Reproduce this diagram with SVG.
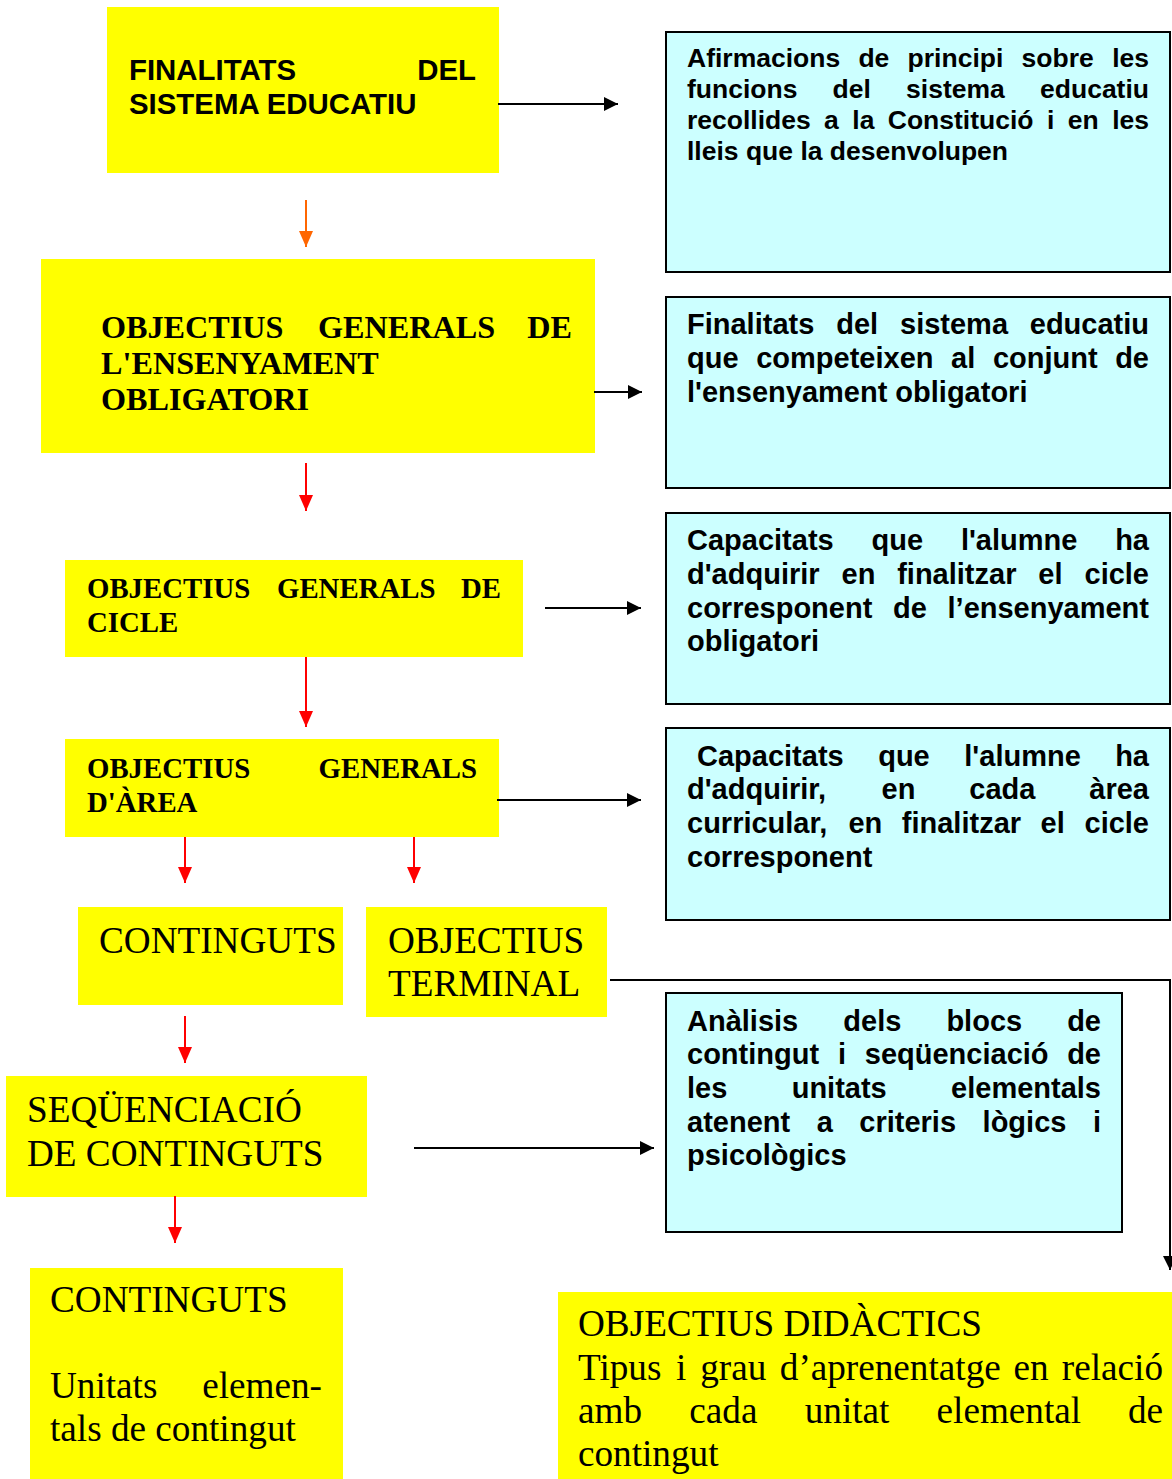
<svg xmlns="http://www.w3.org/2000/svg" width="1172" height="1479" viewBox="0 0 1172 1479">
  <style>
    .y { fill: #FFFF00; }
    .c { fill: #CCFFFF; stroke: #000; stroke-width: 2; }
    .sb { font-family: "Liberation Sans", Arial, sans-serif; font-weight: bold; fill: #000; }
    .rb { font-family: "Liberation Serif", "Times New Roman", serif; font-weight: bold; fill: #000; }
    .rn { font-family: "Liberation Serif", "Times New Roman", serif; fill: #000; font-size: 37.2px; }
    .e { text-anchor: end; }
    .blk { stroke: #000; stroke-width: 2; fill: none; marker-end: url(#hb); }
    .red { stroke: #FF0000; stroke-width: 2; fill: none; marker-end: url(#hr); }
    .org { stroke: #FF6600; stroke-width: 2; fill: none; marker-end: url(#ho); }
  </style>
  <defs>
    <marker id="hb" markerUnits="userSpaceOnUse" markerWidth="14" markerHeight="14" refX="14" refY="7" orient="auto">
      <path d="M0,0 L14,7 L0,14 z" fill="#000"/>
    </marker>
    <marker id="hr" markerUnits="userSpaceOnUse" markerWidth="16" markerHeight="14" refX="16" refY="7" orient="auto">
      <path d="M0,0 L16,7 L0,14 z" fill="#FF0000"/>
    </marker>
    <marker id="ho" markerUnits="userSpaceOnUse" markerWidth="16" markerHeight="14" refX="16" refY="7" orient="auto">
      <path d="M0,0 L16,7 L0,14 z" fill="#FF6600"/>
    </marker>
  </defs>
  <rect width="1172" height="1479" fill="#fff"/>

  <!-- left column: yellow nodes -->
  <g id="finalitats">
    <rect class="y" x="107" y="7" width="392" height="166"/>
    <text class="sb" font-size="29.4">
      <tspan x="129" y="80">FINALITATS</tspan>
      <tspan x="129" y="114">SISTEMA EDUCATIU</tspan>
    </text>
    <text class="sb e" font-size="29.4" x="476" y="80">DEL</text>
  </g>

  <g id="obj-ensenyament">
    <rect class="y" x="41" y="259" width="554" height="194"/>
    <text class="rb" font-size="32.2">
      <tspan x="101" y="338">OBJECTIUS</tspan>
      <tspan x="318" y="338">GENERALS</tspan>
      <tspan x="101" y="374">L'ENSENYAMENT</tspan>
      <tspan x="101" y="410">OBLIGATORI</tspan>
    </text>
    <text class="rb e" font-size="32.2" x="572" y="338">DE</text>
  </g>

  <g id="obj-cicle">
    <rect class="y" x="65" y="560" width="458" height="97"/>
    <text class="rb" font-size="28.8">
      <tspan x="87" y="598">OBJECTIUS</tspan>
      <tspan x="277" y="598">GENERALS</tspan>
      <tspan x="87" y="632">CICLE</tspan>
    </text>
    <text class="rb e" font-size="28.8" x="501" y="598">DE</text>
  </g>

  <g id="obj-area">
    <rect class="y" x="65" y="739" width="434" height="98"/>
    <text class="rb" font-size="28.8">
      <tspan x="87" y="778">OBJECTIUS</tspan>
      <tspan x="87" y="812">D'ÀREA</tspan>
    </text>
    <text class="rb e" font-size="28.8" x="477" y="778">GENERALS</text>
  </g>

  <g id="continguts">
    <rect class="y" x="78" y="907" width="265" height="98"/>
    <text class="rn" x="99" y="953">CONTINGUTS</text>
  </g>

  <g id="obj-terminal">
    <rect class="y" x="366" y="907" width="241" height="110"/>
    <text class="rn">
      <tspan x="388" y="953">OBJECTIUS</tspan>
      <tspan x="388" y="996">TERMINAL</tspan>
    </text>
  </g>

  <g id="sequenciacio">
    <rect class="y" x="6" y="1076" width="361" height="121"/>
    <text class="rn">
      <tspan x="27" y="1122">SEQÜENCIACIÓ</tspan>
      <tspan x="27" y="1166">DE CONTINGUTS</tspan>
    </text>
  </g>

  <g id="unitats">
    <rect class="y" x="30" y="1268" width="313" height="211"/>
    <text class="rn">
      <tspan x="50" y="1312">CONTINGUTS</tspan>
      <tspan x="50" y="1398">Unitats</tspan>
      <tspan x="50" y="1441">tals de contingut</tspan>
    </text>
    <text class="rn e" x="322" y="1398">elemen-</text>
  </g>

  <g id="obj-didactics">
    <rect class="y" x="558" y="1292" width="614" height="187"/>
    <text class="rn">
      <tspan x="578" y="1336">OBJECTIUS DIDÀCTICS</tspan>
      <tspan x="578" y="1380">Tipus</tspan>
      <tspan x="676.1" y="1380">i</tspan>
      <tspan x="700.2" y="1380">grau</tspan>
      <tspan x="779.8" y="1380">d’aprenentatge</tspan>
      <tspan x="1013.5" y="1380">en</tspan>
      <tspan x="578" y="1423">amb</tspan>
      <tspan x="689.3" y="1423">cada</tspan>
      <tspan x="804.7" y="1423">unitat</tspan>
      <tspan x="936.6" y="1423">elemental</tspan>
      <tspan x="578" y="1466">contingut</tspan>
    </text>
    <text class="rn e" x="1163" y="1380">relació</text>
    <text class="rn e" x="1163" y="1423">de</text>
  </g>

  <!-- right column: cyan description nodes -->
  <g id="desc-finalitats">
    <rect class="c" x="666" y="32" width="504" height="240"/>
    <text class="sb" font-size="26.5">
      <tspan x="687" y="67">Afirmacions</tspan>
      <tspan x="858.4" y="67">de</tspan>
      <tspan x="907.6" y="67">principi</tspan>
      <tspan x="1021.6" y="67">sobre</tspan>
      <tspan x="687" y="98">funcions</tspan>
      <tspan x="832.6" y="98">del</tspan>
      <tspan x="906.1" y="98">sistema</tspan>
      <tspan x="687" y="129">recollides</tspan>
      <tspan x="824.1" y="129">a</tspan>
      <tspan x="852.3" y="129">la</tspan>
      <tspan x="887.8" y="129">Constitució</tspan>
      <tspan x="1046.9" y="129">i</tspan>
      <tspan x="1067.7" y="129">en</tspan>
      <tspan x="687" y="160">lleis que la desenvolupen</tspan>
    </text>
    <text class="sb e" font-size="26.5" x="1149" y="67">les</text>
    <text class="sb e" font-size="26.5" x="1149" y="98">educatiu</text>
    <text class="sb e" font-size="26.5" x="1149" y="129">les</text>
  </g>

  <g id="desc-ensenyament">
    <rect class="c" x="666" y="297" width="504" height="191"/>
    <text class="sb" font-size="29">
      <tspan x="687" y="334">Finalitats</tspan>
      <tspan x="836.2" y="334">del</tspan>
      <tspan x="900" y="334">sistema</tspan>
      <tspan x="687" y="368">que</tspan>
      <tspan x="756.2" y="368">competeixen</tspan>
      <tspan x="951.1" y="368">al</tspan>
      <tspan x="992.9" y="368">conjunt</tspan>
      <tspan x="687" y="402">l'ensenyament obligatori</tspan>
    </text>
    <text class="sb e" font-size="29" x="1149" y="334">educatiu</text>
    <text class="sb e" font-size="29" x="1149" y="368">de</text>
  </g>

  <g id="desc-cicle">
    <rect class="c" x="666" y="513" width="504" height="191"/>
    <text class="sb" font-size="29">
      <tspan x="687" y="550">Capacitats</tspan>
      <tspan x="871.5" y="550">que</tspan>
      <tspan x="960.9" y="550">l'alumne</tspan>
      <tspan x="687" y="584">d'adquirir</tspan>
      <tspan x="841.5" y="584">en</tspan>
      <tspan x="897.2" y="584">finalitzar</tspan>
      <tspan x="1038.3" y="584">el</tspan>
      <tspan x="687" y="618">corresponent</tspan>
      <tspan x="893" y="618">de</tspan>
      <tspan x="687" y="651">obligatori</tspan>
    </text>
    <text class="sb e" font-size="29" x="1149" y="550">ha</text>
    <text class="sb e" font-size="29" x="1149" y="584">cicle</text>
    <text class="sb e" font-size="29" x="1149" y="618">l’ensenyament</text>
  </g>

  <g id="desc-area">
    <rect class="c" x="666" y="728" width="504" height="192"/>
    <text class="sb" font-size="29">
      <tspan x="697" y="766">Capacitats</tspan>
      <tspan x="878.2" y="766">que</tspan>
      <tspan x="964.3" y="766">l'alumne</tspan>
      <tspan x="687" y="799">d'adquirir,</tspan>
      <tspan x="881.6" y="799">en</tspan>
      <tspan x="969.3" y="799">cada</tspan>
      <tspan x="687" y="833">curricular,</tspan>
      <tspan x="848.4" y="833">en</tspan>
      <tspan x="901.8" y="833">finalitzar</tspan>
      <tspan x="1040.6" y="833">el</tspan>
      <tspan x="687" y="867">corresponent</tspan>
    </text>
    <text class="sb e" font-size="29" x="1149" y="766">ha</text>
    <text class="sb e" font-size="29" x="1149" y="799">àrea</text>
    <text class="sb e" font-size="29" x="1149" y="833">cicle</text>
  </g>

  <g id="desc-sequenciacio">
    <rect class="c" x="666" y="993" width="456" height="239"/>
    <text class="sb" font-size="29">
      <tspan x="687" y="1031">Anàlisis</tspan>
      <tspan x="843.3" y="1031">dels</tspan>
      <tspan x="946.4" y="1031">blocs</tspan>
      <tspan x="687" y="1064">contingut</tspan>
      <tspan x="837.9" y="1064">i</tspan>
      <tspan x="864.8" y="1064">seqüenciació</tspan>
      <tspan x="687" y="1098">les</tspan>
      <tspan x="791.7" y="1098">unitats</tspan>
      <tspan x="687" y="1132">atenent</tspan>
      <tspan x="816.7" y="1132">a</tspan>
      <tspan x="859.3" y="1132">criteris</tspan>
      <tspan x="982.6" y="1132">lògics</tspan>
      <tspan x="687" y="1165">psicològics</tspan>
    </text>
    <text class="sb e" font-size="29" x="1101" y="1031">de</text>
    <text class="sb e" font-size="29" x="1101" y="1064">de</text>
    <text class="sb e" font-size="29" x="1101" y="1098">elementals</text>
    <text class="sb e" font-size="29" x="1101" y="1132">i</text>
  </g>

  <!-- connectors -->
  <g id="connectors">
    <path class="blk" d="M498,104 H618"/>
    <path class="blk" d="M594,392 H642"/>
    <path class="blk" d="M545,608 H641"/>
    <path class="blk" d="M497,800 H641"/>
    <path class="blk" d="M414,1148 H654"/>
    <path class="blk" d="M610,980 H1170 V1270"/>
    <path class="org" d="M306,200 V247"/>
    <path class="red" d="M306,463 V511"/>
    <path class="red" d="M306,657 V727"/>
    <path class="red" d="M185,837 V883"/>
    <path class="red" d="M414,837 V883"/>
    <path class="red" d="M185,1016 V1063"/>
    <path class="red" d="M175,1196 V1243"/>
  </g>
</svg>
